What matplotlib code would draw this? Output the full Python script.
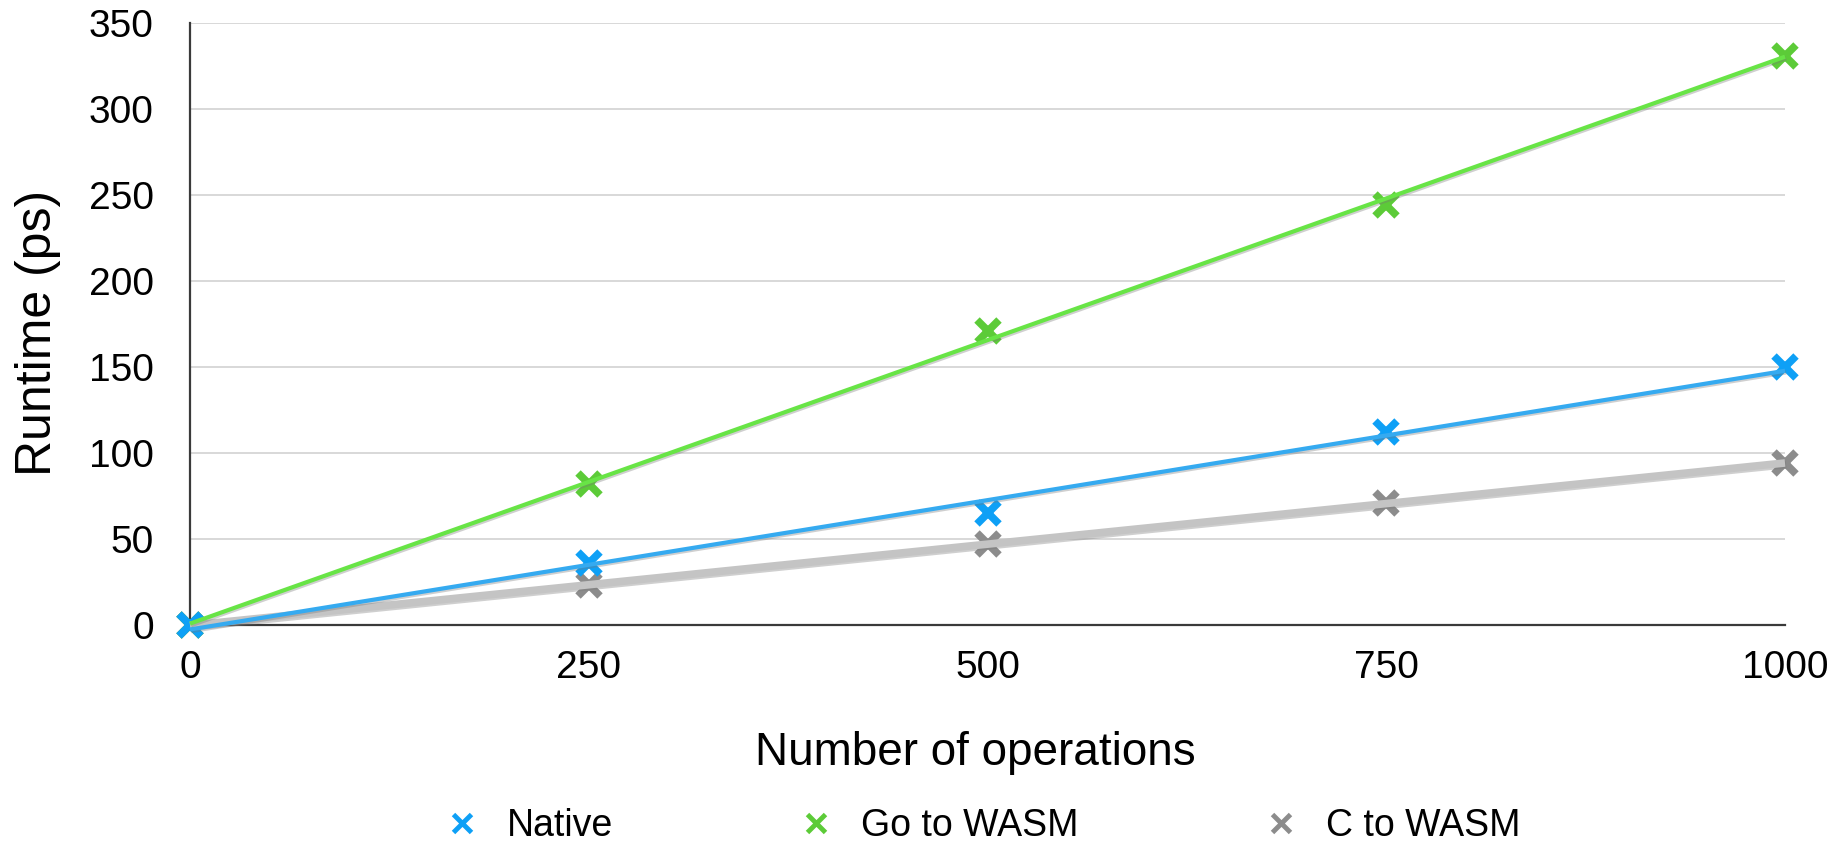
import numpy as np
import matplotlib
matplotlib.use("Agg")
import matplotlib.pyplot as plt
from matplotlib.lines import Line2D
import matplotlib.patheffects as pe

plt.rcParams['font.family'] = ['Liberation Sans', 'DejaVu Sans']

# ---- data ----
operations = [0, 250, 500, 750, 1000]
native = [0, 36, 65, 112, 150]
go_wasm = [0, 82, 171, 244, 331]
c_wasm = [0, 23, 47, 71, 94]
series_names = ["Native", "Go to WASM", "C to WASM"]
x_ticks = [0, 250, 500, 750, 1000]
y_ticks = [0, 50, 100, 150, 200, 250, 300, 350]

marker_colors = {"Native": "#0ea0f6", "Go to WASM": "#5ccb38", "C to WASM": "#8c8c8c"}
line_colors = {"Native": "#35aaf0", "Go to WASM": "#68e446", "C to WASM": "#c4c4c4"}
line_widths = {"Native": 3.0, "Go to WASM": 3.0, "C to WASM": 5.5}
values = {"Native": native, "Go to WASM": go_wasm, "C to WASM": c_wasm}

W, H = 1835, 844
fig = plt.figure(figsize=(W / 100, H / 100), dpi=100)
ax = fig.add_axes([190 / W, 1 - 625 / H, 1595 / W, 602 / H])

ax.set_xlim(0, 1000)
ax.set_ylim(0, 350)
ax.set_xticks(x_ticks)
ax.set_yticks(y_ticks)
ax.set_xticklabels([str(t) for t in x_ticks])
ax.set_yticklabels([str(t) for t in y_ticks])
ax.tick_params(axis='both', length=0, labelsize=28, colors='black')
ax.tick_params(axis='x', pad=18)
ax.tick_params(axis='y', pad=26)

ax.yaxis.grid(True, color='#d6d6d6', lw=1.3)
ax.set_axisbelow(True)
for s in ['top', 'right']:
    ax.spines[s].set_visible(False)
for s in ['left', 'bottom']:
    ax.spines[s].set_color('#3a3a3a')
    ax.spines[s].set_linewidth(1.6)

xs = np.array(operations, dtype=float)

# markers (drawn first, under trend lines)
for name in ["C to WASM", "Go to WASM", "Native"]:
    ax.plot(xs, values[name], ls='none', marker='x', ms=16, mew=5.5,
            color=marker_colors[name], clip_on=False, zorder=3)

# linear trend lines
for name in ["C to WASM", "Native", "Go to WASM"]:
    k, b = np.polyfit(xs, np.array(values[name], dtype=float), 1)
    xl = np.array([xs.min(), xs.max()])
    ax.plot(xl, k * xl + b, color=line_colors[name], lw=line_widths[name],
            solid_capstyle='butt', clip_on=False, zorder=4,
            path_effects=[pe.SimpleLineShadow(offset=(0.8, -1.2), shadow_color='#777777', alpha=0.35),
                          pe.Normal()])

# axis labels
fig.text(38 / W, 1 - 333 / H, "Runtime (ps)", rotation=90, ha='center', va='center', fontsize=36)
fig.text(975 / W, 1 - 765 / H, "Number of operations", ha='center', va='baseline', fontsize=33)

handles = [Line2D([], [], ls='none', marker='x', ms=13, mew=3.5, color=marker_colors[n]) for n in series_names]
fig.legend(handles, series_names, loc='center', bbox_to_anchor=(982 / W, 1 - 826 / H), ncol=3,
           frameon=False, handlelength=1.0, handletextpad=0.7, columnspacing=4.9,
           borderpad=0, prop={'size': 27})

fig.savefig("out.png", dpi=100)
